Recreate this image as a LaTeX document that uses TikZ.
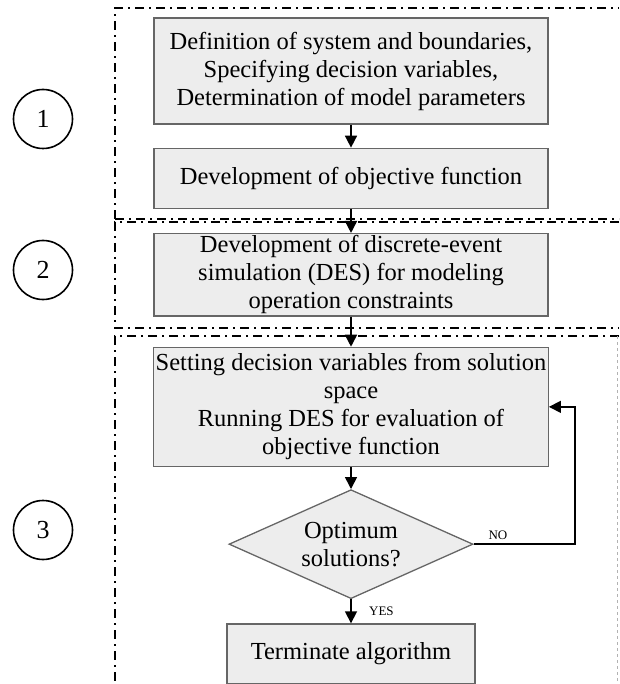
\documentclass[tikz,border=0pt]{standalone}
\usepackage{fontspec}
\setmainfont{Liberation Serif}
\usetikzlibrary{
    positioning,
    shapes.geometric,
    arrows.meta
}

\tikzset{
  stage/.style={draw=black!60, fill=black!7, line width=1.3pt, align=center,
    inner sep=2pt, minimum width=394pt, font=\fontsize{24.5}{28}\selectfont},
  choice/.style={diamond, draw=black!60, fill=black!7, line width=1.3pt,
    align=center, aspect=2.24, inner sep=0pt, minimum width=244pt,
    minimum height=109pt, font=\fontsize{24.5}{28}\selectfont},
  phase/.style={circle, draw, line width=1.6pt, minimum size=59pt,
    inner sep=0pt, font=\fontsize{26}{30}\selectfont},
  flow/.style={-{Triangle[length=12pt,width=12pt]}, line width=1.6pt},
  frame/.style={line width=1.7pt, dash pattern=on 9pt off 5pt on 2pt off 5pt},
  tag/.style={font=\fontsize{13}{15}\selectfont}
}

\begin{document}
\begin{tikzpicture}[x=1pt, y=-1pt]
\useasboundingbox (0,0) rectangle (619,684);

% phase frames
\draw[frame] (115,219) -- (115,8) -- (619,8);
\draw[frame] (115,219) -- (619,219);
\draw[frame] (619,222) -- (115,222) -- (115,328) -- (619,328);
\draw[frame] (619,336) -- (115,336) -- (115,684);
\draw[black!30, dashed, line width=1pt] (617,336) -- (617,684);

% phase numbers
\node[phase] (p1) at (43,119) {1};
\node[phase] (p2) at (43,270) {2};
\node[phase] (p3) at (43,530) {3};

% flowchart
\node[stage, minimum height=106pt] (define) at (351,71)
  {Definition of system and boundaries,\\
   Specifying decision variables,\\
   Determination of model parameters};
\node[stage, minimum height=60pt, below=23pt of define] (objective)
  {Development of objective function};
\node[stage, minimum height=82pt, below=24pt of objective] (des)
  {Development of discrete-event\\
   simulation (DES) for modeling\\
   operation constraints};
\node[stage, minimum height=119pt, below=30pt of des] (search)
  {Setting decision variables from solution\\
   space\\
   Running DES for evaluation of\\
   objective function};
\node[choice, below=22pt of search] (optimum) {Optimum\\solutions?};
\node[stage, minimum width=248pt, minimum height=60pt, below=24pt of optimum] (stop)
  {Terminate algorithm};

\coordinate (loop) at (575,538);

\draw[flow] (define) -- (objective);
\draw[flow] (objective) -- (des);
\draw[flow] (des) -- (search);
\draw[flow] (search) -- (optimum);
\draw[flow] (optimum) -- node[tag, right=14pt] {YES} (stop);
\draw[flow] (optimum.east) -- node[tag, above, pos=0.24] {NO} (loop |- optimum.east)
  |- (search.east);
\end{tikzpicture}
\end{document}
